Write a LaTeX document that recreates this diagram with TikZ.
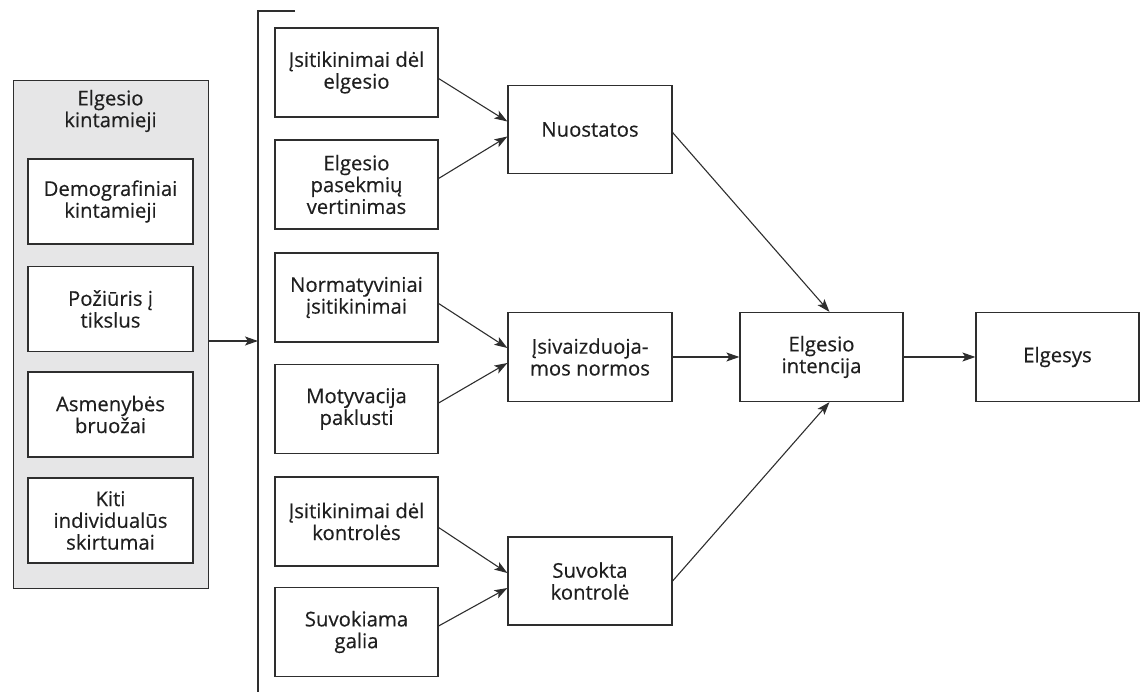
\documentclass[tikz,border=0pt]{standalone}
\usepackage{fontspec}
\setmainfont{Open Sans}[FakeBold=0.35]
\usetikzlibrary{arrows.meta,calc}
\definecolor{ln}{HTML}{2E2E2E}
\definecolor{graybg}{HTML}{E6E6E7}
\definecolor{txt}{HTML}{1F1F1F}
\begin{document}
\begin{tikzpicture}[x=1pt,y=-1pt,
  box/.style={draw=ln,line width=1.2pt,fill=white,align=center,text=txt,font=\fontsize{20.3}{21.8}\selectfont,inner sep=2pt},
  colbox/.style={box,minimum width=163pt,minimum height=89pt},
  ibox/.style={box,minimum width=165pt,minimum height=85pt},
  arr/.style={draw=ln,line width=1.1pt,-{Stealth[length=13pt,width=9pt,inset=3pt]}}]
\useasboundingbox (0,0) rectangle (1146,692);
% left gray panel
\node[draw=ln,line width=1.2pt,fill=graybg,minimum width=195pt,minimum height=508pt,anchor=north west,inner sep=0pt] (grp) at (13,80) {};
\node[text=txt,font=\fontsize{20.3}{21.8}\selectfont,align=center] (grt) at (110.5,111) {Elgesio\\kintamieji};
\node[ibox] (g1) at (110.5,201.5) {Demografiniai\\kintamieji};
\node[ibox] (g2) at (110.5,309) {Požiūris į\\tikslus};
\node[ibox] (g3) at (110.5,414.5) {Asmenybės\\bruožai};
\node[ibox] (g4) at (110.5,520.5) {Kiti\\individualūs\\skirtumai};
% bracket
\coordinate (bt) at (258,11);
\coordinate (btr) at (295,11);
\coordinate (bb) at (258,692);
\coordinate (bm) at (258,341);
\draw[draw=ln,line width=1.2pt] (btr) -- (bt) -- (bb);
\draw[arr] (grp.east |- bm) -- (bm);
% column 2
\node[colbox] (b1) at (356.5,72.5) {Įsitikinimai dėl\\elgesio};
\node[colbox] (b2) at (356.5,184.5) {Elgesio\\pasekmių\\vertinimas};
\node[colbox] (b3) at (356.5,297.5) {Normatyviniai\\įsitikinimai};
\node[colbox] (b4) at (356.5,409) {Motyvacija\\paklusti};
\node[colbox] (b5) at (356.5,521.5) {Įsitikinimai dėl\\kontrolės};
\node[colbox] (b6) at (356.5,632) {Suvokiama\\galia};
% column 3
\node[colbox,minimum width=164pt,minimum height=88pt] (n1) at (590,129.5) {Nuostatos};
\node[colbox,minimum width=164pt,minimum height=89pt] (n2) at (590,357) {Įsivaizduoja-\\mos normos};
\node[colbox,minimum width=164pt,minimum height=88pt] (n3) at (590,581) {Suvokta\\kontrolė};
% right
\node[colbox,minimum height=89pt] (ei) at (821.5,357) {Elgesio\\intencija};
\node[colbox,minimum height=89pt] (el) at (1057.5,357) {Elgesys};
% arrows
\draw[arr] ($(b1.east)+(0,6)$) -- ($(n1.west)+(0,-8)$);
\draw[arr] ($(b2.east)+(0,-6)$) -- ($(n1.west)+(0,7)$);
\draw[arr] ($(b3.east)+(0,6)$) -- ($(n2.west)+(0,-9)$);
\draw[arr] ($(b4.east)+(0,-6)$) -- ($(n2.west)+(0,6)$);
\draw[arr] ($(b5.east)+(0,6)$) -- ($(n3.west)+(0,-8)$);
\draw[arr] ($(b6.east)+(0,-6)$) -- ($(n3.west)+(0,7)$);
\draw[arr] ($(n1.east)+(0,3)$) -- ($(ei.north)+(8,0)$);
\draw[arr] (n2.east) -- (ei.west);
\draw[arr] (n3.east) -- ($(ei.south)+(8,0)$);
\draw[arr] (ei.east) -- (el.west);
\end{tikzpicture}
\end{document}
